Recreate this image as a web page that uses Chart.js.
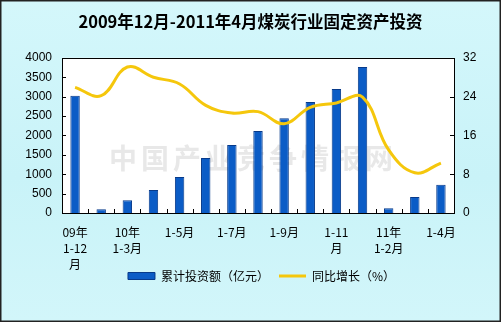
<!DOCTYPE html>
<html>
<head>
<meta charset="utf-8">
<script src="https://cdn.jsdelivr.net/npm/chart.js@4.4.0/dist/chart.umd.min.js"></script>
<style>
  body { margin: 0; }
  #wrap { position: relative; width: 501px; height: 322px;
          background: linear-gradient(#d4f7fb, #c9f3f8 55%, #d2f6fa); }
  #wrap canvas { position: absolute; left: 0; top: 0; }
</style>
</head>
<body>
<div id="wrap"><canvas id="coal" width="501" height="322"></canvas></div>
<script>
// 累计月份
var months = ['09年1-12月', '10年1-2月', '10年1-3月', '10年1-4月', '10年1-5月', '10年1-6月',
              '10年1-7月', '10年1-8月', '10年1-9月', '10年1-10月', '10年1-11月', '10年1-12月',
              '11年1-2月', '11年1-3月', '11年1-4月'];
// x轴只显示隔月标签
var tickLabels = [['09年', '1-12', '月'], '', ['10年', '1-3月'], '', '1-5月', '', '1-7月', '',
                  '1-9月', '', ['1-11', '月'], '', ['11年', '1-2月'], '', '1-4月'];
// 累计投资额（亿元）
var investment = [3020, 95, 330, 595, 925, 1415, 1750, 2115, 2445, 2860, 3195, 3765, 120, 415, 725];
// 同比增长（%）
var growth = [25.9, 24.2, 30.1, 28.0, 26.6, 22.2, 20.6, 20.9, 18.4, 21.8, 22.7, 23.9, 13.0, 8.3, 10.3];

var leftTicks = [0, 500, 1000, 1500, 2000, 2500, 3000, 3500, 4000];
var rightTicks = [0, 8, 16, 24, 32];

var plotDecor = {
  id: 'plotDecor',
  afterLayout: function(chart) {
    // 图例往右、往上挪一点，贴近x轴标签
    var lg = chart.legend;
    lg.left += 11; lg.right += 11;
    lg.top -= 13; lg.bottom -= 13;
  },
  beforeDraw: function(chart) {
    var ctx = chart.ctx, a = chart.chartArea;
    ctx.save();
    ctx.fillStyle = '#ffffff';
    ctx.fillRect(a.left, a.top, a.right - a.left, a.bottom - a.top);
    ctx.restore();
  },
  beforeDatasetsDraw: function(chart) {
    // 水印
    var ctx = chart.ctx, a = chart.chartArea;
    ctx.save();
    ctx.font = 'bold 28px "Noto Sans CJK SC"';
    ctx.letterSpacing = '4px';
    ctx.fillStyle = 'rgba(150,150,150,0.22)';
    ctx.textAlign = 'center';
    ctx.textBaseline = 'middle';
    ctx.fillText('中国产业竞争情报网', (a.left + a.right) / 2 - 5, a.top + 101);
    ctx.restore();
  },
  afterDatasetsDraw: function(chart) {
    var ctx = chart.ctx, a = chart.chartArea;
    var xs = chart.scales.x, yl = chart.scales.y, yr = chart.scales.y1;
    ctx.save();
    ctx.strokeStyle = '#000';
    ctx.lineWidth = 1;
    ctx.beginPath();
    leftTicks.forEach(function(v) {
      var y = Math.round(yl.getPixelForValue(v)) + 0.5;
      ctx.moveTo(a.left, y); ctx.lineTo(a.left + 4, y);
    });
    rightTicks.forEach(function(v) {
      var y = Math.round(yr.getPixelForValue(v)) + 0.5;
      ctx.moveTo(a.right - 4, y); ctx.lineTo(a.right, y);
    });
    for (var i = 1; i < months.length; i++) {
      var x = Math.round(xs.getPixelForValue(i - 0.5)) + 0.5;
      ctx.moveTo(x, a.bottom); ctx.lineTo(x, a.bottom - 4);
    }
    ctx.stroke();
    ctx.strokeRect(Math.round(a.left) + 0.5, Math.round(a.top) + 0.5,
                   Math.round(a.right - a.left), Math.round(a.bottom - a.top));
    ctx.restore();
  },
  afterDraw: function(chart) {
    var ctx = chart.ctx;
    ctx.save();
    ctx.strokeStyle = '#222';
    ctx.lineWidth = 1.5;
    ctx.strokeRect(0.75, 0.75, chart.width - 1.5, chart.height - 1.5);
    ctx.restore();
  }
};

new Chart(document.getElementById('coal'), {
  data: {
    labels: months,
    datasets: [
      {
        type: 'line',
        label: '同比增长（%）',
        data: growth,
        yAxisID: 'y1',
        borderColor: '#f5c70c',
        backgroundColor: '#f5c70c',
        borderWidth: 3,
        tension: 0.4,
        pointRadius: 0,
        pointStyle: 'line',
        order: 0
      },
      {
        type: 'bar',
        label: '累计投资额（亿元）',
        data: investment,
        yAxisID: 'y',
        backgroundColor: '#0b5cc6',
        borderColor: '#073a8a',
        borderWidth: 1,
        categoryPercentage: 1,
        barPercentage: 0.36,
        pointStyle: 'rect',
        order: 1
      }
    ]
  },
  options: {
    responsive: false,
    animation: false,
    layout: { padding: { left: 0, right: 0, top: 0, bottom: 17 } },
    plugins: {
      title: {
        display: true,
        text: '2009年12月-2011年4月煤炭行业固定资产投资',
        color: '#000',
        font: { family: '"Noto Sans CJK SC"', size: 16.5, weight: 'bold' },
        padding: { top: 12, bottom: 26 }
      },
      legend: {
        position: 'bottom',
        reverse: true,
        labels: {
          color: '#000',
          font: { family: '"Noto Sans CJK SC"', size: 12 },
          usePointStyle: true,
          pointStyleWidth: 27,
          boxHeight: 7,
          padding: 10
        }
      },
      tooltip: { enabled: false }
    },
    scales: {
      x: {
        grid: { display: false, drawTicks: false },
        border: { display: false },
        ticks: {
          autoSkip: false,
          maxRotation: 0,
          color: '#000',
          padding: 11,
          font: { family: '"Noto Sans CJK SC"', size: 12, lineHeight: 1.3333 },
          callback: function(v, i) { return tickLabels[i]; }
        },
        afterFit: function(s) { s.height = 60; }
      },
      y: {
        position: 'left',
        min: 0, max: 4000,
        grid: { display: false, drawTicks: false },
        border: { display: false },
        ticks: {
          stepSize: 500,
          color: '#000',
          padding: 10,
          font: { family: '"Liberation Sans"', size: 12 },
          callback: function(v) { return String(v); }
        },
        afterFit: function(s) { s.width = 62; }
      },
      y1: {
        position: 'right',
        min: 0, max: 32,
        grid: { display: false, drawTicks: false },
        border: { display: false },
        ticks: {
          stepSize: 8,
          color: '#000',
          padding: 9,
          font: { family: '"Liberation Sans"', size: 12 },
          callback: function(v) { return String(v); }
        },
        afterFit: function(s) { s.width = 47; }
      }
    }
  },
  plugins: [plotDecor]
});
</script>
</body>
</html>
